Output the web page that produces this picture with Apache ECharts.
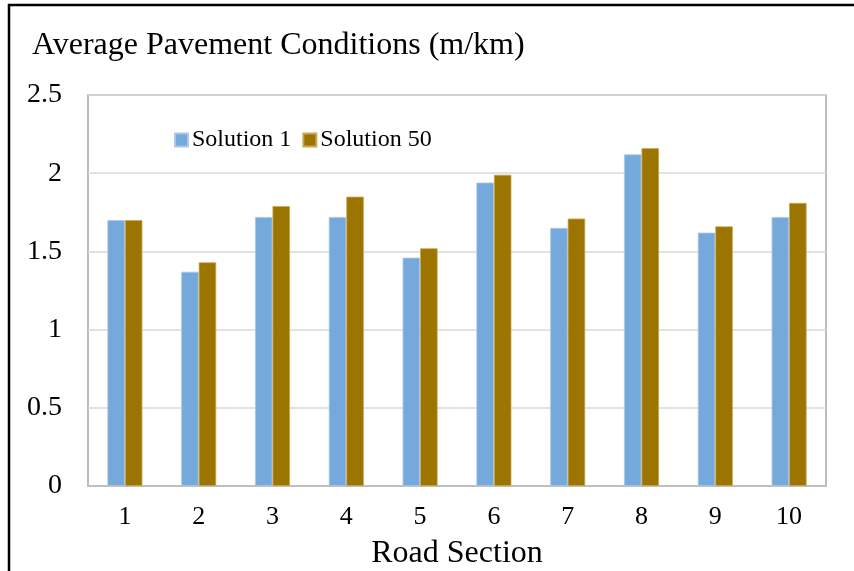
<!DOCTYPE html>
<html>
<head>
<meta charset="utf-8">
<script src="https://cdn.jsdelivr.net/npm/echarts@6/dist/echarts.min.js"></script>
<style>
  html, body { margin: 0; padding: 0; background: #fff; }
  #chart { width: 854px; height: 571px; }
</style>
</head>
<body>
<div id="chart"></div>
<script>
const sections = ['1', '2', '3', '4', '5', '6', '7', '8', '9', '10'];
const solution1 = [1.70, 1.37, 1.72, 1.72, 1.46, 1.94, 1.65, 2.12, 1.62, 1.72];
const solution50 = [1.70, 1.43, 1.79, 1.85, 1.52, 1.99, 1.71, 2.16, 1.66, 1.81];
const yTicks = [0, 0.5, 1, 1.5, 2, 2.5];

const serif = '"Liberation Serif", "Times New Roman", serif';
const chart = echarts.init(document.getElementById('chart'));

chart.setOption({
  animation: false,
  backgroundColor: '#fff',
  textStyle: { fontFamily: serif, color: '#000' },
  title: {
    text: 'Average Pavement Conditions (m/km)',
    left: 27,
    top: 25,
    textStyle: { fontFamily: serif, fontSize: 32, fontWeight: 'normal', color: '#000' }
  },
  legend: {
    data: ['Solution 1', 'Solution 50'],
    left: 169,
    top: 123,
    itemWidth: 13,
    itemHeight: 13,
    itemGap: 11,
    icon: 'rect',
    textStyle: { fontFamily: serif, fontSize: 24, color: '#000', padding: [0, 0, 0, -1] }
  },
  grid: {
    left: 88,
    right: 28,
    top: 95,
    bottom: 85,
    show: true,
    outerBoundsMode: 'none',
    containLabel: false,
    borderColor: '#a6a6a6',
    borderWidth: 1.5
  },
  xAxis: {
    type: 'category',
    data: sections,
    name: 'Road Section',
    nameLocation: 'middle',
    nameGap: 52,
    nameTextStyle: { fontFamily: serif, fontSize: 32, color: '#000' },
    axisLine: { lineStyle: { color: '#bfbfbf', width: 2 } },
    axisTick: { show: false },
    axisLabel: { fontFamily: serif, fontSize: 26, color: '#000', margin: 18 }
  },
  yAxis: {
    type: 'value',
    min: yTicks[0],
    max: yTicks[yTicks.length - 1],
    interval: 0.5,
    axisLine: { show: false },
    axisTick: { show: false },
    splitLine: { lineStyle: { color: '#d9d9d9', width: 1.5 } },
    axisLabel: { fontFamily: serif, fontSize: 28, color: '#000', margin: 26 }
  },
  graphic: [{
    type: 'rect',
    shape: { x: 9, y: 5, width: 900, height: 700 },
    style: { fill: null, stroke: '#000', lineWidth: 2.5 },
    silent: true
  }],
  series: [
    {
      name: 'Solution 1',
      type: 'bar',
      data: solution1,
      barWidth: 17.5,
      barGap: '0%',
      itemStyle: { color: '#75a9db', borderColor: '#a9c9ea', borderWidth: 0.8 }
    },
    {
      name: 'Solution 50',
      type: 'bar',
      data: solution50,
      barWidth: 17.5,
      itemStyle: { color: '#9b7500', borderColor: '#c8a850', borderWidth: 0.8 }
    }
  ]
});
</script>
</body>
</html>
